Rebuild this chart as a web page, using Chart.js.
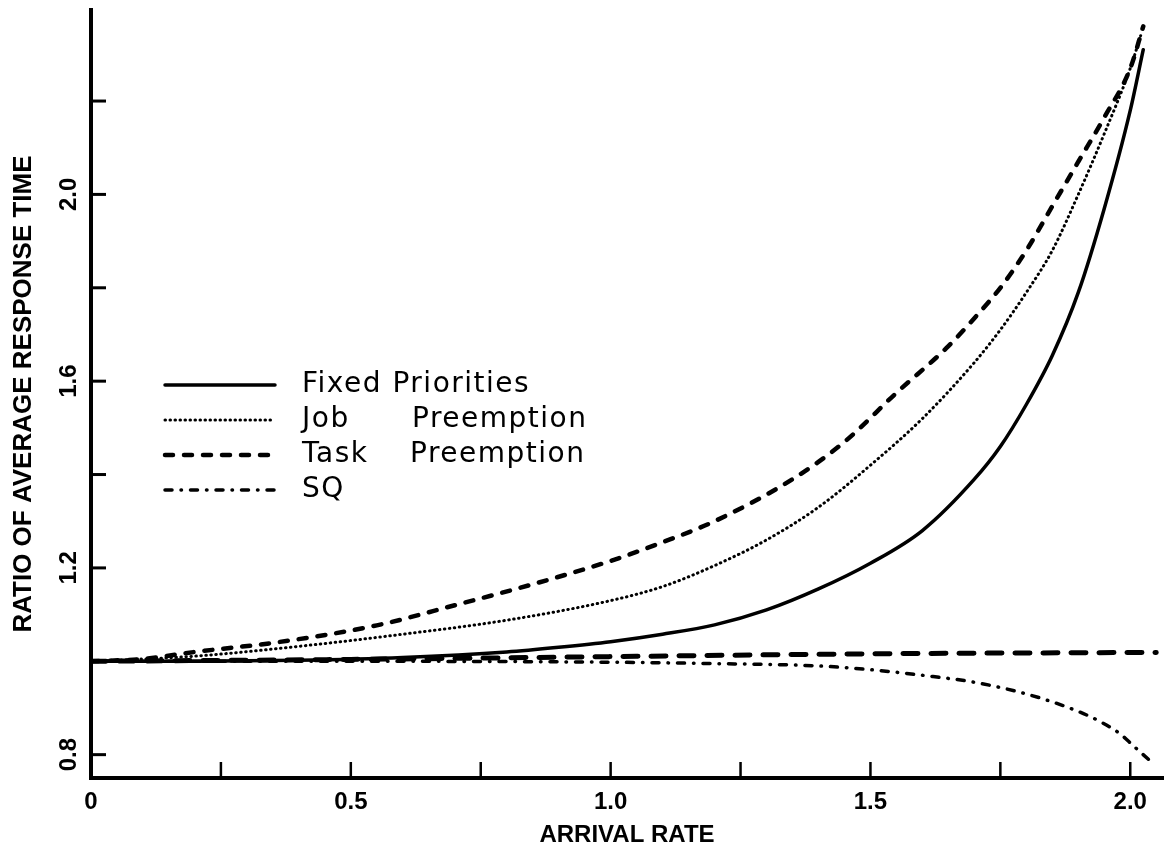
<!DOCTYPE html>
<html><head><meta charset="utf-8">
<script src="https://cdn.jsdelivr.net/npm/chart.js@4.4.0/dist/chart.umd.min.js"></script>
<style>html,body{margin:0;padding:0;background:#fff;} canvas{display:block;}</style>
</head><body>
<canvas id="c" width="1172" height="855"></canvas>
<script>
// ---- data ----
const seriesNames = ['Fixed Priorities', 'Job      Preemption', 'Task    Preemption', 'SQ'];

const fixedX = [0, 0.2, 0.4, 0.6, 0.8, 0.9, 1.0, 1.1, 1.2, 1.3, 1.4, 1.5, 1.6, 1.7, 1.75, 1.8, 1.85, 1.9, 1.95, 2.0, 2.025];
const fixedY = [1.0, 1.0, 1.002, 1.008, 1.02, 1.03, 1.042, 1.058, 1.078, 1.11, 1.155, 1.21, 1.28, 1.39, 1.46, 1.55, 1.655, 1.79, 1.97, 2.18, 2.31];

const jobX = [0, 0.2, 0.4, 0.6, 0.8, 1.0, 1.1, 1.2, 1.3, 1.4, 1.5, 1.6, 1.7, 1.75, 1.8, 1.85, 1.9, 1.95, 2.0, 2.02];
const jobY = [1.0, 1.011, 1.032, 1.058, 1.088, 1.13, 1.16, 1.205, 1.26, 1.33, 1.42, 1.52, 1.64, 1.71, 1.79, 1.88, 2.0, 2.13, 2.27, 2.34];

const taskX = [0, 0.1, 0.2, 0.36, 0.55, 0.7, 0.85, 1.0, 1.1, 1.2, 1.35, 1.45, 1.55, 1.65, 1.7, 1.75, 1.8, 1.85, 1.9, 1.95, 2.0, 2.025];
const taskY = [1.0, 1.005, 1.02, 1.041, 1.077, 1.12, 1.165, 1.215, 1.255, 1.30, 1.39, 1.47, 1.575, 1.675, 1.735, 1.80, 1.88, 1.975, 2.07, 2.165, 2.27, 2.36];

const sqX = [0, 0.5, 1.0, 1.2, 1.4, 1.5, 1.6, 1.7, 1.8, 1.89, 1.94, 1.98, 2.005, 2.035];
const sqY = [1.0, 1.0, 0.998, 0.995, 0.99, 0.982, 0.97, 0.955, 0.93, 0.897, 0.872, 0.845, 0.82, 0.79];

// unlabeled long-dash curve near 1.0
const baseX = [0, 0.5, 1.0, 1.5, 2.05];
const baseY = [1.0, 1.004, 1.01, 1.016, 1.019];

const xLabelValues = [0, 0.5, 1.0, 1.5, 2.0];
const xTickLabels = ['0', '0.5', '1.0', '1.5', '2.0'];
const yLabelValues = [0.8, 1.2, 1.6, 2.0];
const yTickLabels = ['0.8', '1.2', '1.6', '2.0'];
const xTitle = 'ARRIVAL RATE';
const yTitle = 'RATIO OF AVERAGE RESPONSE TIME';

// ---- build ----
const pts = (xs, ys) => xs.map((x, i) => ({x: x, y: ys[i]}));
const common = {borderColor: '#000', pointRadius: 0, fill: false, cubicInterpolationMode: 'monotone'};

const datasets = [
  Object.assign({}, common, {label: seriesNames[0], data: pts(fixedX, fixedY), borderWidth: 3.5, borderDash: [], borderCapStyle: 'round'}),
  Object.assign({}, common, {label: seriesNames[1], data: pts(jobX, jobY), borderWidth: 3, borderDash: [0.5, 4.5], borderCapStyle: 'round'}),
  Object.assign({}, common, {label: seriesNames[2], data: pts(taskX, taskY), borderWidth: 4.5, borderDash: [8, 11], borderCapStyle: 'round'}),
  Object.assign({}, common, {label: seriesNames[3], data: pts(sqX, sqY), borderWidth: 3.5, borderDash: [7, 9, 0.5, 9], borderCapStyle: 'round'}),
  Object.assign({}, common, {label: '', data: pts(baseX, baseY), borderWidth: 5, borderDash: [15, 13], borderCapStyle: 'round'})
];

function findLabel(v, vals, labels) {
  for (let i = 0; i < vals.length; i++) if (Math.abs(v - vals[i]) < 1e-6) return labels[i];
  return '';
}

const overlay = {
  id: 'overlay',
  afterDraw(chart) {
    const ctx = chart.ctx;
    const xs = chart.scales.x, ys = chart.scales.y;
    const area = chart.chartArea;
    ctx.save();
    ctx.strokeStyle = '#000';
    ctx.fillStyle = '#000';
    // inward x ticks
    ctx.lineWidth = 2.5;
    xs.ticks.forEach(t => {
      if (t.value <= 0) return;
      const px = xs.getPixelForValue(t.value);
      ctx.beginPath(); ctx.moveTo(px, area.bottom); ctx.lineTo(px, area.bottom - 16); ctx.stroke();
    });
    // inward y ticks
    ctx.lineWidth = 3;
    ys.ticks.forEach(t => {
      if (t.value >= ys.max - 0.05) return;
      const py = ys.getPixelForValue(t.value);
      ctx.beginPath(); ctx.moveTo(area.left, py); ctx.lineTo(area.left + 15, py); ctx.stroke();
    });
    // rotated y tick labels
    ctx.font = 'bold 24px "Liberation Sans", Arial, sans-serif';
    ctx.textAlign = 'center';
    ctx.textBaseline = 'middle';
    yLabelValues.forEach((v, i) => {
      const py = ys.getPixelForValue(v);
      ctx.save();
      ctx.translate(area.left - 22, py);
      ctx.rotate(-Math.PI / 2);
      ctx.fillText(yTickLabels[i], 0, 0);
      ctx.restore();
    });
    // legend inside plot
    ctx.textAlign = 'left';
    ctx.font = '28px "DejaVu Sans", sans-serif';
    try { ctx.letterSpacing = '1.5px'; } catch (e) {}
    let row = 0;
    chart.data.datasets.forEach(ds => {
      if (!ds.label) return;
      const y = 385 + row * 35;
      ctx.save();
      ctx.lineWidth = ds.borderWidth;
      ctx.lineCap = ds.borderCapStyle;
      ctx.setLineDash(ds.borderDash);
      ctx.beginPath(); ctx.moveTo(165, y); ctx.lineTo(275, y); ctx.stroke();
      ctx.restore();
      ctx.fillText(ds.label, 302, y);
      row++;
    });
    ctx.restore();
  }
};

new Chart(document.getElementById('c'), {
  type: 'line',
  data: {datasets: datasets},
  plugins: [overlay],
  options: {
    responsive: false,
    animation: false,
    layout: {padding: {top: 10, right: 9, left: 0, bottom: 0}},
    plugins: {legend: {display: false}, tooltip: {enabled: false}},
    scales: {
      x: {
        type: 'linear', min: 0, max: 2.063,
        afterFit: s => { s.height = 77; },
        ticks: {stepSize: 0.25, includeBounds: false, autoSkip: false, maxRotation: 0, minRotation: 0, padding: 10,
                color: '#000', font: {family: '"Liberation Sans", Arial, sans-serif', size: 24, weight: 'bold'},
                callback: v => findLabel(v, xLabelValues, xTickLabels)},
        grid: {display: true, drawOnChartArea: false, drawTicks: false},
        border: {display: true, width: 4, color: '#000'},
        title: {display: true, text: xTitle, color: '#000', padding: {top: 0, bottom: 5},
                font: {family: '"Liberation Sans", Arial, sans-serif', size: 24, weight: 'bold'}}
      },
      y: {
        type: 'linear', min: 0.75, max: 2.395,
        afterFit: s => { s.width = 91; },
        ticks: {display: false, stepSize: 0.2, includeBounds: false},
        grid: {display: true, drawOnChartArea: false, drawTicks: false},
        border: {display: true, width: 4, color: '#000'},
        title: {display: true, text: yTitle, color: '#000', padding: {top: 8, bottom: 0},
                font: {family: '"Liberation Sans", Arial, sans-serif', size: 26, weight: 'bold'}}
      }
    }
  }
});
</script></body></html>
